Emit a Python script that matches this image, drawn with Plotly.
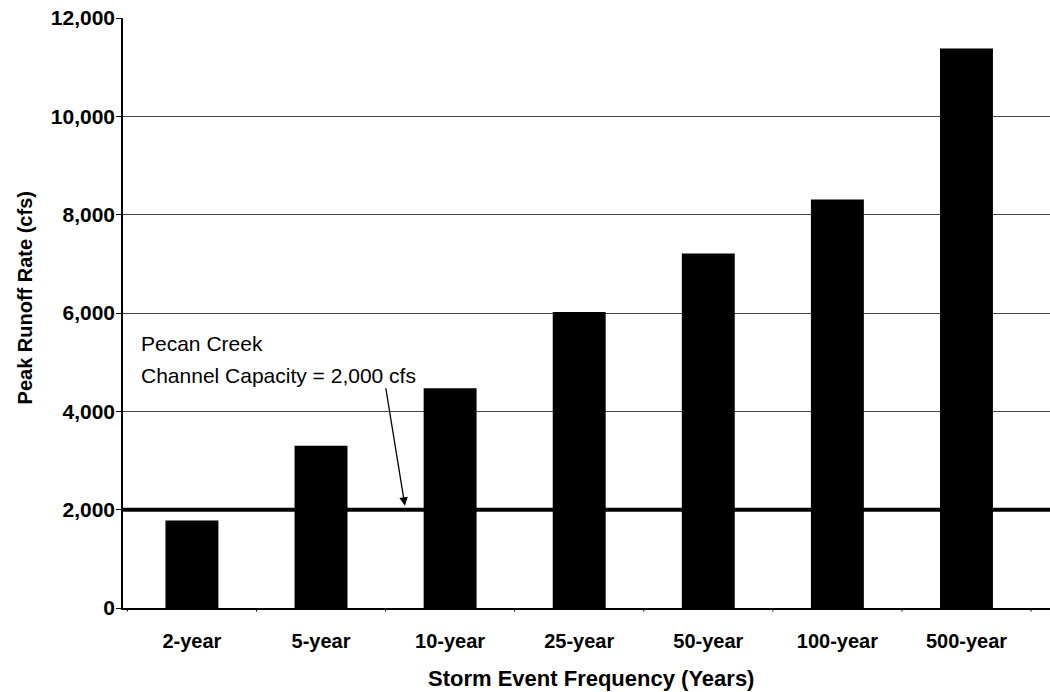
import plotly.graph_objects as go

categories = ["2-year", "5-year", "10-year", "25-year", "50-year", "100-year", "500-year"]
peak_runoff = [1780, 3300, 4470, 6020, 7210, 8310, 11380]
channel_capacity = 2000
y_ticks = [0, 2000, 4000, 6000, 8000, 10000, 12000]

FONT = "Liberation Sans, Arial"

fig = go.Figure()
fig.add_trace(go.Bar(
    x=list(range(len(categories))), y=peak_runoff,
    marker=dict(color="black", line=dict(width=0)),
    width=0.41, showlegend=False,
))

fig.add_shape(type="line", xref="paper", x0=0, x1=1, yref="y",
              y0=channel_capacity, y1=channel_capacity,
              line=dict(color="black", width=4), layer="above")

fig.add_annotation(x=-0.41, y=5380, xref="x", yref="y", text="Pecan Creek",
                   showarrow=False, xanchor="left", yanchor="middle",
                   font=dict(family=FONT, size=21, color="black"))
fig.add_annotation(x=-0.41, y=4730, xref="x", yref="y", text="Channel Capacity = 2,000 cfs",
                   showarrow=False, xanchor="left", yanchor="middle",
                   font=dict(family=FONT, size=21, color="black"))
fig.add_annotation(x=1.65, y=channel_capacity + 80, xref="x", yref="y",
                   ax=1.50, ay=4500, axref="x", ayref="y", text="",
                   showarrow=True, arrowhead=2, arrowsize=1.3, arrowwidth=1.3,
                   arrowcolor="black")

# axis titles
fig.add_annotation(x=-0.1055, y=0.525, xref="paper", yref="paper",
                   text="<b>Peak Runoff Rate (cfs)</b>", textangle=-90,
                   showarrow=False, xanchor="center", yanchor="middle",
                   font=dict(family=FONT, size=20, color="black"))
fig.add_annotation(x=0.505, y=-0.1203, xref="paper", yref="paper",
                   text="<b>Storm Event Frequency (Years)</b>",
                   showarrow=False, xanchor="center", yanchor="middle",
                   font=dict(family=FONT, size=22, color="black"))

fig.update_layout(
    width=1050, height=692,
    margin=dict(l=123, r=0, t=18, b=84),
    paper_bgcolor="white", plot_bgcolor="white",
    font=dict(family=FONT, color="black"),
)
fig.update_xaxes(
    range=[-0.534, 6.647],
    tickmode="array", tickvals=list(range(len(categories))),
    ticktext=[f"<b>{c}</b>" for c in categories],
    tickfont=dict(size=20), ticklabelstandoff=14,
    showline=True, linecolor="black", linewidth=1.5,
    ticks="", showgrid=False, zeroline=False,
)
fig.update_yaxes(
    range=[0, 12000], tickvals=y_ticks,
    ticktext=[f"<b>{v:,}</b>" for v in y_ticks],
    tickfont=dict(size=21), ticklabelstandoff=-3,
    showline=True, linecolor="black", linewidth=1.5,
    ticks="outside", ticklen=5, tickcolor="black",
    showgrid=True, gridcolor="#444444", gridwidth=1, zeroline=False,
)

# boundary ticks on x axis between categories
for i in range(len(categories) + 1):
    fig.add_shape(type="line", xref="x", yref="paper", x0=i - 0.5, x1=i - 0.5,
                  y0=0, y1=-0.006, line=dict(color="black", width=1))

fig.write_html("out.html", config={"displayModeBar": False},
               post_script="document.body.style.margin='0px';document.body.style.overflow='hidden';")
